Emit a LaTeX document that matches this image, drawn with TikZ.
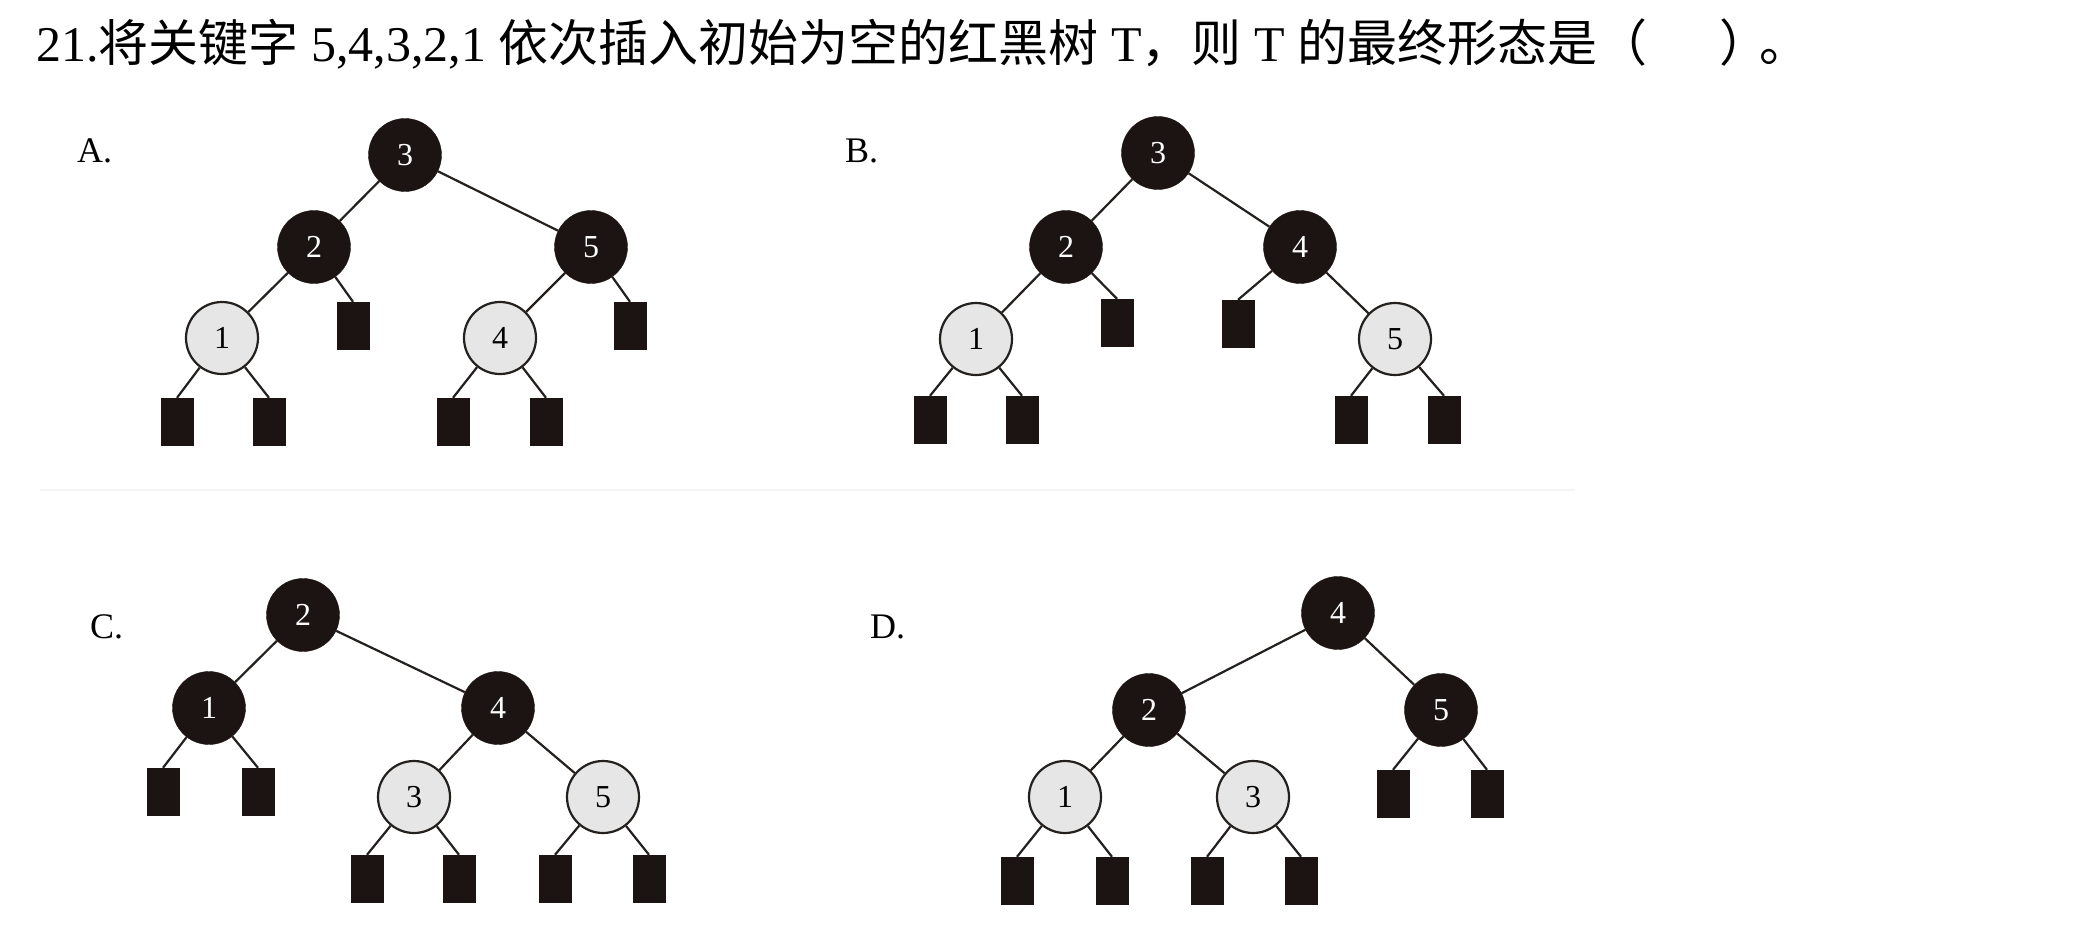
\documentclass[tikz,border=0pt]{standalone}
\usepackage{fontspec}
\setmainfont{Liberation Serif}
\newfontfamily\cjk{Noto Sans CJK SC}
\definecolor{nodeblack}{RGB}{28,20,18}
\definecolor{nodegray}{RGB}{230,230,230}
\definecolor{edgecol}{RGB}{35,32,30}
\definecolor{sepcol}{RGB}{244,244,244}
\begin{document}
\begin{tikzpicture}[x=1pt,y=-1pt,
  bnode/.style={circle, fill=nodeblack, draw=nodeblack, minimum size=73pt, inner sep=0pt,
    text=white, font=\fontsize{32}{32}\selectfont},
  rnode/.style={circle, fill=nodegray, draw=edgecol, line width=2.2pt, minimum size=72pt, inner sep=0pt,
    text=black, font=\fontsize{32}{32}\selectfont},
  leafbox/.style={rectangle, fill=nodeblack, minimum width=33pt, minimum height=48pt, inner sep=0pt},
  edge/.style={draw=edgecol, line width=2.2pt},
  optlabel/.style={anchor=base west, inner sep=0pt, font=\fontsize{36}{36}\selectfont}
]
\useasboundingbox (0,0) rectangle (2081,926);
\fill[white] (0,0) rectangle (2081,926);

% title
\node[anchor=base west, inner sep=0pt, font=\fontsize{50}{58}\selectfont] (title) at (36,61)
  {21.{\cjk 将关键字} 5,4,3,2,1 {\cjk 依次插入初始为空的红黑树} T{\cjk ，则} T {\cjk 的最终形态是（}\hspace{1.45em}{\cjk ）}\hspace{-0.2em}{\cjk 。}};

% separator
\coordinate (sepl) at (40,490);
\coordinate (sepr) at (1575,490);
\draw[sepcol, line width=2.5pt] (sepl) -- (sepr);

% option labels
\node[optlabel] (labA) at (77,162) {A.};
\node[optlabel] (labB) at (845,162) {B.};
\node[optlabel] (labC) at (90,638) {C.};
\node[optlabel] (labD) at (870,638) {D.};

% ---------- Tree A ----------
\node[bnode] (a3) at (405,155) {3};
\node[bnode] (a2) at (314,247) {2};
\node[bnode] (a5) at (591,247) {5};
\node[rnode] (a1) at (222,338) {1};
\node[rnode] (a4) at (500,338) {4};
\node[leafbox] (a2r) at (353,326) {};
\node[leafbox] (a5r) at (630,326) {};
\node[leafbox] (a1l) at (177,422) {};
\node[leafbox] (a1r) at (269,422) {};
\node[leafbox] (a4l) at (453,422) {};
\node[leafbox] (a4r) at (546,422) {};
\draw[edge] (a3) -- (a2);
\draw[edge] (a3) -- (a5);
\draw[edge] (a2) -- (a1);
\draw[edge] (a2) -- (a2r.north);
\draw[edge] (a5) -- (a4);
\draw[edge] (a5) -- (a5r.north);
\draw[edge] (a1) -- (a1l.north);
\draw[edge] (a1) -- (a1r.north);
\draw[edge] (a4) -- (a4l.north);
\draw[edge] (a4) -- (a4r.north);

% ---------- Tree B ----------
\node[bnode] (b3) at (1158,153) {3};
\node[bnode] (b2) at (1066,247) {2};
\node[bnode] (b4) at (1300,247) {4};
\node[rnode] (b1) at (976,339) {1};
\node[rnode] (b5) at (1395,339) {5};
\node[leafbox] (b2r) at (1117,323) {};
\node[leafbox] (b4l) at (1238,324) {};
\node[leafbox] (b1l) at (930,420) {};
\node[leafbox] (b1r) at (1022,420) {};
\node[leafbox] (b5l) at (1351,420) {};
\node[leafbox] (b5r) at (1444,420) {};
\draw[edge] (b3) -- (b2);
\draw[edge] (b3) -- (b4);
\draw[edge] (b2) -- (b1);
\draw[edge] (b2) -- (b2r.north);
\draw[edge] (b4) -- (b4l.north);
\draw[edge] (b4) -- (b5);
\draw[edge] (b1) -- (b1l.north);
\draw[edge] (b1) -- (b1r.north);
\draw[edge] (b5) -- (b5l.north);
\draw[edge] (b5) -- (b5r.north);

% ---------- Tree C ----------
\node[bnode] (c2) at (303,615) {2};
\node[bnode] (c1) at (209,708) {1};
\node[bnode] (c4) at (498,708) {4};
\node[rnode] (c3) at (414,797) {3};
\node[rnode] (c5) at (603,797) {5};
\node[leafbox] (c1l) at (163,792) {};
\node[leafbox] (c1r) at (258,792) {};
\node[leafbox] (c3l) at (367,879) {};
\node[leafbox] (c3r) at (459,879) {};
\node[leafbox] (c5l) at (555,879) {};
\node[leafbox] (c5r) at (649,879) {};
\draw[edge] (c2) -- (c1);
\draw[edge] (c2) -- (c4);
\draw[edge] (c1) -- (c1l.north);
\draw[edge] (c1) -- (c1r.north);
\draw[edge] (c4) -- (c3);
\draw[edge] (c4) -- (c5);
\draw[edge] (c3) -- (c3l.north);
\draw[edge] (c3) -- (c3r.north);
\draw[edge] (c5) -- (c5l.north);
\draw[edge] (c5) -- (c5r.north);

% ---------- Tree D ----------
\node[bnode] (d4) at (1338,613) {4};
\node[bnode] (d2) at (1149,710) {2};
\node[bnode] (d5) at (1441,710) {5};
\node[rnode] (d1) at (1065,797) {1};
\node[rnode] (d3) at (1253,797) {3};
\node[leafbox] (d5l) at (1393,794) {};
\node[leafbox] (d5r) at (1487,794) {};
\node[leafbox] (d1l) at (1017,881) {};
\node[leafbox] (d1r) at (1112,881) {};
\node[leafbox] (d3l) at (1207,881) {};
\node[leafbox] (d3r) at (1301,881) {};
\draw[edge] (d4) -- (d2);
\draw[edge] (d4) -- (d5);
\draw[edge] (d2) -- (d1);
\draw[edge] (d2) -- (d3);
\draw[edge] (d5) -- (d5l.north);
\draw[edge] (d5) -- (d5r.north);
\draw[edge] (d1) -- (d1l.north);
\draw[edge] (d1) -- (d1r.north);
\draw[edge] (d3) -- (d3l.north);
\draw[edge] (d3) -- (d3r.north);
\end{tikzpicture}
\end{document}
